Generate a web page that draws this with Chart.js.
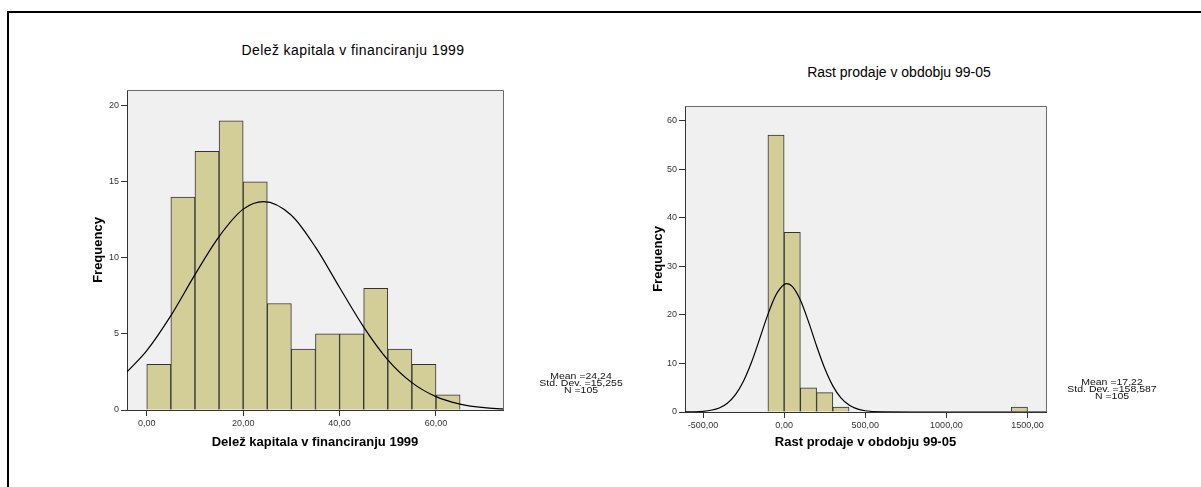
<!DOCTYPE html>
<html>
<head>
<meta charset="utf-8">
<script src="https://cdn.jsdelivr.net/npm/chart.js@4.4.1/dist/chart.umd.min.js"></script>
<style>
  body { margin: 0; background: #fff; width: 1201px; height: 487px; overflow: hidden; position: relative;
         font-family: "Liberation Sans", Arial, sans-serif; }
  #frame { position: absolute; left: 7px; top: 11px; width: 1200px; height: 480px;
           border-left: 2px solid #000; border-top: 2px solid #000; }
  .box { position: absolute; width: 460px; height: 380px; }
  .title { position: absolute; font-size: 14px; line-height: 16px; color: #000; white-space: nowrap;
           transform: translateX(-50%); }
  .stats { position: absolute; font-size: 10.5px; line-height: 9px; color: #111; text-align: center;
           white-space: nowrap; transform-origin: 50% 0; transform: translateX(-50%) scaleY(0.78); }
</style>
</head>
<body>
<div id="frame"></div>

<div class="title" style="left:353px; top:42px; letter-spacing:0.4px;">Delež kapitala v financiranju 1999</div>
<div class="title" style="left:899px; top:64px;">Rast prodaje v obdobju 99-05</div>

<div class="box" style="left:60px; top:80px;"><canvas id="capChart" width="460" height="380"></canvas></div>
<div class="box" style="left:620px; top:80px;"><canvas id="salesChart" width="460" height="380"></canvas></div>

<div class="stats" style="left:581px; top:373px;">Mean =24,24<br>Std. Dev. =15,255<br>N =105</div>
<div class="stats" style="left:1112px; top:379px;">Mean =17,22<br>Std. Dev. =158,587<br>N =105</div>

<script>
// Delež kapitala v financiranju 1999 (bin width 5)
const capBinMid = [2.5, 7.5, 12.5, 17.5, 22.5, 27.5, 32.5, 37.5, 42.5, 47.5, 52.5, 57.5, 62.5];
const capCounts = [3, 14, 17, 19, 15, 7, 4, 5, 5, 8, 4, 3, 1];
const capCurveX = [-4.1, 0, 5, 10, 15, 20, 24.24, 30, 35, 40, 45, 50, 55, 60, 65, 70, 73.9];
const capCurveY = [2.5, 3.9, 6.2, 8.9, 11.4, 13.2, 13.7, 12.8, 10.7, 8.05, 5.45, 3.3, 1.8, 0.88, 0.39, 0.15, 0.07];
const capXTicks = [0, 20, 40, 60];
const capYTicks = [0, 5, 10, 15, 20];

// Rast prodaje v obdobju 99-05 (bin width 100)
const salesBinMid = [-50, 50, 150, 250, 350, 1450];
const salesCounts = [57, 37, 5, 4, 1, 1];
const salesCurveX = [-611, -500, -400, -350, -300, -250, -200, -150, -100, -50, 0, 17, 50, 100, 150, 200, 250, 300, 350, 400, 450, 500, 600, 800, 1614];
const salesCurveY = [0.01, 0.13, 0.83, 1.81, 3.57, 6.39, 10.34, 15.15, 20.1, 24.14, 26.25, 26.41, 25.85, 23.05, 18.6, 13.59, 8.99, 5.38, 2.92, 1.43, 0.64, 0.26, 0.03, 0, 0];
const salesXTicks = [-500, 0, 500, 1000, 1500];
const salesYTicks = [0, 10, 20, 30, 40, 50, 60];

const BAR_FILL = '#d3ce97';
const PLOT_BG = '#f0f0f0';
const FONT = 'Liberation Sans';

const plotFrame = {
  id: 'plotFrame',
  beforeDraw(chart) {
    const { ctx, chartArea: a } = chart;
    ctx.save();
    ctx.fillStyle = PLOT_BG;
    ctx.fillRect(a.left, a.top, a.width, a.height);
    ctx.restore();
  },
  afterDraw(chart) {
    const { ctx, chartArea: a } = chart;
    ctx.save();
    ctx.strokeStyle = '#6a6a6a';
    ctx.lineWidth = 1;
    ctx.beginPath();
    ctx.moveTo(a.left, a.top + 0.5);
    ctx.lineTo(a.right + 0.5, a.top + 0.5);
    ctx.lineTo(a.right + 0.5, a.bottom);
    ctx.stroke();
    ctx.restore();
  }
};

function comma(v) {
  return v.toFixed(2).replace('.', ',');
}

function histogram(id, o) {
  const bars = o.mids.map((x, i) => ({ x: x, y: o.counts[i] }));
  const curve = o.curveX.map((x, i) => ({ x: x, y: o.curveY[i] }));
  return new Chart(document.getElementById(id), {
    type: 'bar',
    data: {
      datasets: [
        {
          type: 'line',
          data: curve,
          borderColor: '#000',
          borderWidth: 1.2,
          pointRadius: 0,
          fill: false,
          cubicInterpolationMode: 'monotone',
          order: 0
        },
        {
          data: bars,
          backgroundColor: BAR_FILL,
          borderColor: '#333',
          borderWidth: 1,
          barPercentage: 1,
          categoryPercentage: 1,
          grouped: false,
          order: 1
        }
      ]
    },
    options: {
      responsive: false,
      animation: false,
      layout: { padding: { top: o.padTop, right: o.padRight, left: 0, bottom: 0 } },
      plugins: { legend: { display: false }, tooltip: { enabled: false }, title: { display: false } },
      scales: {
        x: {
          type: 'linear',
          min: o.xMin,
          max: o.xMax,
          offset: false,
          grid: { display: true, drawOnChartArea: false, drawTicks: true, tickLength: 6, color: '#333', offset: false },
          border: { display: true, color: '#333', width: 1 },
          ticks: { padding: 2, color: '#333', font: { family: FONT, size: 9 }, maxRotation: 0, callback: (v) => comma(v) },
          afterBuildTicks: (s) => { s.ticks = o.xTicks.map((v) => ({ value: v })); },
          afterFit: (s) => { s.height = o.xAxisH; },
          title: { display: true, text: o.xTitle, color: '#000', font: { family: FONT, size: 13, weight: 'bold' },
                   padding: { top: 0, bottom: 10 } }
        },
        y: {
          min: 0,
          max: o.yMax,
          grid: { display: true, drawOnChartArea: false, drawTicks: true, tickLength: 6, color: '#333' },
          border: { display: true, color: '#333', width: 1 },
          ticks: { padding: 2, color: '#333', font: { family: FONT, size: 9 } },
          afterBuildTicks: (s) => { s.ticks = o.yTicks.map((v) => ({ value: v })); },
          afterFit: (s) => { s.width = o.yAxisW; },
          title: { display: true, text: 'Frequency', color: '#000', font: { family: FONT, size: 13, weight: 'bold' },
                   padding: { top: 31, bottom: 0 } }
        }
      }
    },
    plugins: [plotFrame]
  });
}

histogram('capChart', {
  mids: capBinMid, counts: capCounts, curveX: capCurveX, curveY: capCurveY,
  xTicks: capXTicks, yTicks: capYTicks,
  xMin: -4.1, xMax: 73.9, yMax: 21.03,
  padTop: 10, padRight: 17, xAxisH: 50, yAxisW: 67,
  xTitle: 'Delež kapitala v financiranju 1999'
});

histogram('salesChart', {
  mids: salesBinMid, counts: salesCounts, curveX: salesCurveX, curveY: salesCurveY,
  xTicks: salesXTicks, yTicks: salesYTicks,
  xMin: -611, xMax: 1614, yMax: 63.0,
  padTop: 26, padRight: 34, xAxisH: 48, yAxisW: 65,
  xTitle: 'Rast prodaje v obdobju 99-05'
});
</script>
</body>
</html>
